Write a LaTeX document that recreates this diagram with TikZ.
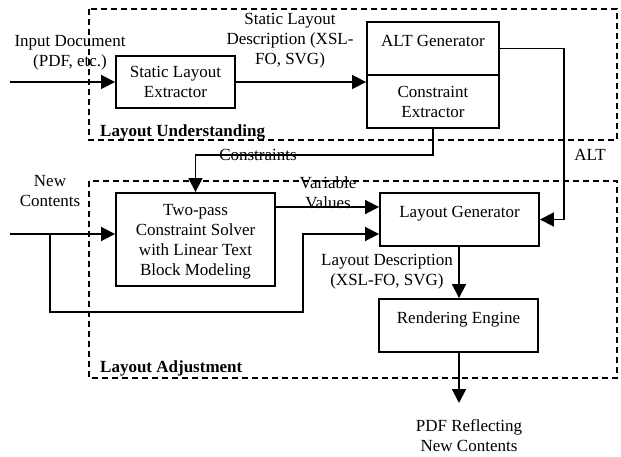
\documentclass[tikz,border=0pt]{standalone}
\usepackage{fontspec}
\setmainfont{Liberation Serif}
\usetikzlibrary{arrows.meta}
\begin{document}
\begin{tikzpicture}[x=1pt,y=-1pt,
  every node/.style={font=\fontsize{17}{20}\selectfont},
  box/.style={draw,line width=1.9pt,rectangle,inner sep=0pt,align=center},
  txt/.style={inner sep=0pt,align=center},
  grp/.style={draw,line width=1.8pt,dash pattern=on 6pt off 4pt},
  conn/.style={line width=1.8pt},
  arr/.style={conn,-{Triangle[length=14pt,width=14pt]}},
  lbl/.style={inner sep=0pt,anchor=west,font=\fontsize{17}{20}\selectfont\bfseries}]
\useasboundingbox (0,0) rectangle (621,457);
% groups
\draw[grp] (89,9) rectangle (617,140);
\draw[grp] (89,181) rectangle (617,378);
\node[lbl] (lu) at (100,132) {Layout Understanding};
\node[lbl] (la) at (100,368) {Layout Adjustment};
% boxes
\node[box,minimum width=119pt,minimum height=52pt] (sle) at (175.5,82) {Static Layout\\Extractor};
\node[box,minimum width=132pt,minimum height=53pt] (ag) at (433,48.5) {ALT Generator\\[-5pt]\mbox{}};
\node[box,minimum width=132pt,minimum height=53pt] (ce) at (433,101.5) {Constraint\\Extractor};
\node[box,minimum width=159pt,minimum height=93pt,
  label={[txt,yshift=-2.5pt]center:Two-pass\\Constraint Solver\\with Linear Text\\Block Modeling}] (tp) at (195.5,239.5) {};
\node[box,minimum width=159pt,minimum height=53pt] (lg) at (459.5,219.5) {Layout Generator\\[-5pt]\mbox{}};
\node[box,minimum width=159pt,minimum height=53pt] (re) at (458.5,325.5) {Rendering Engine\\[-5pt]\mbox{}};
% text labels
\node[txt] (tin) at (70,53) {Input Document\\(PDF, etc.)};
\node[txt] (tsld) at (290,41) {Static Layout\\Description (XSL-\\FO, SVG)};
\node[txt] (talt) at (590,155) {ALT};
\node[txt] (tcons) at (258,155) {Constraints};
\node[txt] (tnew) at (50,191.5) {New\\Contents};
\node[txt] (tvar) at (328,193) {Variable\\Values};
\node[txt] (tld) at (387,271.5) {Layout Description\\(XSL-FO, SVG)};
\node[txt] (tpdf) at (469,436) {PDF Reflecting\\New Contents};
% coordinates
\coordinate (in1) at (10,82);
\coordinate (in2) at (10,234);
\coordinate (br) at (50,234);
\coordinate (out) at (459,403);
% connectors
\draw[arr] (in1) -- (sle.west |- in1);
\draw[arr] (sle.east) -- (sle.east -| ce.west);
\draw[arr] (ag.east) -- (564,48.5) -- (564,219.5) -- (lg.east);
\draw[arr] (ce.south) -- (433,155) -- (195.5,155) -- (tp.north);
\draw[arr] (in2) -- (tp.west |- in2);
\draw[arr] (br) -- (50,312) -- (303,312) -- (303,234) -- (lg.west |- 0,234);
\draw[arr] (tp.east |- 0,207) -- (lg.west |- 0,207);
\draw[arr] (lg.south -| 459,0) -- (re.north -| 459,0);
\draw[arr] (re.south -| 459,0) -- (out);
\end{tikzpicture}
\end{document}
